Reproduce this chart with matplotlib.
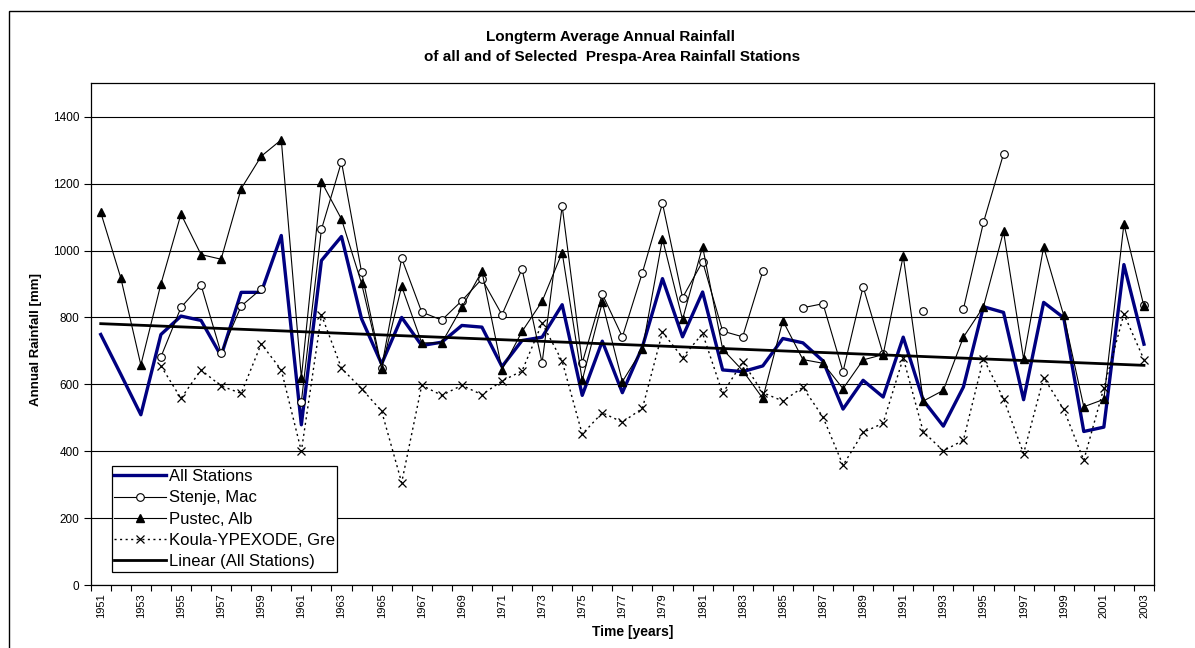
import numpy as np
import matplotlib
matplotlib.use("Agg")
import matplotlib.pyplot as plt
from matplotlib.patches import Rectangle
from matplotlib.ticker import FixedLocator

plt.rcParams['font.family'] = ['Liberation Sans', 'DejaVu Sans']

nan = np.nan
years = list(range(1951, 2004))

all_stations = [749, 630, 509, 749, 804, 791, 685, 875, 875, 1045,
                479, 970, 1042, 796, 661, 800, 716, 726, 776, 771,
                653, 731, 741, 838, 567, 729, 575, 712, 916, 742,
                876, 643, 638, 655, 737, 724, 670, 526, 612, 562,
                741, 552, 475, 592, 832, 815, 554, 845, 799, 459,
                472, 958, 720]

stenje = [nan, nan, nan, 682, 830, 897, 693, 834, 885, nan,
          548, 1063, 1265, 936, 650, 977, 816, 792, 850, 915,
          808, 945, 664, 1133, 664, 870, 742, 934, 1141, 859,
          967, 759, 742, 938, nan, 829, 841, 638, 892, 690,
          nan, 820, nan, 825, 1084, 1289, nan, nan, nan, nan,
          nan, nan, 836]

pustec = [1114, 918, 658, 900, 1109, 988, 974, 1185, 1282, 1331,
          620, 1206, 1094, 902, 647, 893, 724, 724, 830, 938,
          644, 758, 848, 994, 612, 845, 608, 705, 1035, 794,
          1012, 705, 641, 558, 790, 674, 663, 587, 673, 689,
          984, 550, 582, 741, 832, 1057, 676, 1011, 806, 533,
          555, 1079, 833]

koula = [nan, nan, nan, 655, 558, 643, 595, 573, 721, 643,
         400, 808, 648, 587, 520, 306, 597, 567, 597, 569,
         610, 640, 783, 669, 451, 515, 487, 528, 756, 680,
         752, 573, 667, 575, 550, 591, 502, 358, 456, 484,
         679, 458, 401, 433, 677, 557, 393, 620, 525, 373,
         589, 810, 674]

labels = ["All Stations", "Stenje, Mac", "Pustec, Alb",
          "Koula-YPEXODE, Gre", "Linear (All Stations)"]

W, H = 1195, 648
fig = plt.figure(figsize=(W / 100, H / 100), dpi=100)
ax = fig.add_axes([90.7 / W, 1 - 585 / H, (1154 - 90.7) / W, (585 - 83.3) / H])

x = np.array(years, dtype=float)
yall = np.array(all_stations, dtype=float)

ax.plot(x, yall, color='#000080', lw=2.4, label=labels[0], zorder=3)
ax.plot(x, stenje, color='black', lw=0.8, marker='o', ms=5.5, mfc='white',
        mec='black', mew=0.8, label=labels[1], zorder=4)
ax.plot(x, pustec, color='black', lw=0.8, marker='^', ms=6, mfc='black',
        mec='black', label=labels[2], zorder=4)
ax.plot(x, koula, color='black', lw=1.0, ls=(0, (1.5, 2.5)), marker='x', ms=6,
        mew=0.9, label=labels[3], zorder=4)

coef = np.polyfit(x, yall, 1)
ax.plot(x, np.polyval(coef, x), color='black', lw=2.0, label=labels[4], zorder=5)

ax.set_xlim(1950.5, 2003.5)
ax.set_ylim(0, 1500)
ax.set_yticks(np.arange(0, 1401, 200))
ax.yaxis.grid(True, color='black', lw=0.8)
ax.set_axisbelow(True)

ax.xaxis.set_major_locator(FixedLocator(years[::2]))
ax.set_xticklabels([str(y) for y in years[::2]], rotation=90, fontsize=8)
ax.xaxis.set_minor_locator(FixedLocator(np.arange(1950.5, 2004, 1.0)))
ax.tick_params(axis='x', which='major', length=0, pad=6)
ax.tick_params(axis='x', which='minor', length=4, direction='out', width=0.8)
ax.tick_params(axis='y', length=5, direction='out', width=0.8, labelsize=8.5, pad=3)

for s in ax.spines.values():
    s.set_linewidth(0.9)
    s.set_color('black')

leg = ax.legend(loc='lower left', bbox_to_anchor=(0.0197, 0.0265),
                borderaxespad=0, fancybox=False, framealpha=1,
                edgecolor='black', fontsize=12, handlelength=3.1,
                handletextpad=0.15, labelspacing=0.37, borderpad=0.17)
leg.get_frame().set_linewidth(0.9)

fig.text(610 / W, 1 - 37 / H, "Longterm Average Annual Rainfall",
         ha='center', va='center', fontsize=11, fontweight='bold')
fig.text(612 / W, 1 - 57 / H, "of all and of Selected  Prespa-Area Rainfall Stations",
         ha='center', va='center', fontsize=11, fontweight='bold')
fig.text(633 / W, 1 - 632 / H, "Time [years]", ha='center', va='center',
         fontsize=10, fontweight='bold')
fig.text(36 / W, 1 - 340 / H, "Annual Rainfall [mm]", ha='center', va='center',
         fontsize=9.5, fontweight='bold', rotation=90)

fig.add_artist(Rectangle((9 / W, -0.1), 2.0, (1 - 11 / H) + 0.1, fill=False,
                         transform=fig.transFigure, lw=1.0, edgecolor='black'))

fig.savefig("out.png", dpi=100)
